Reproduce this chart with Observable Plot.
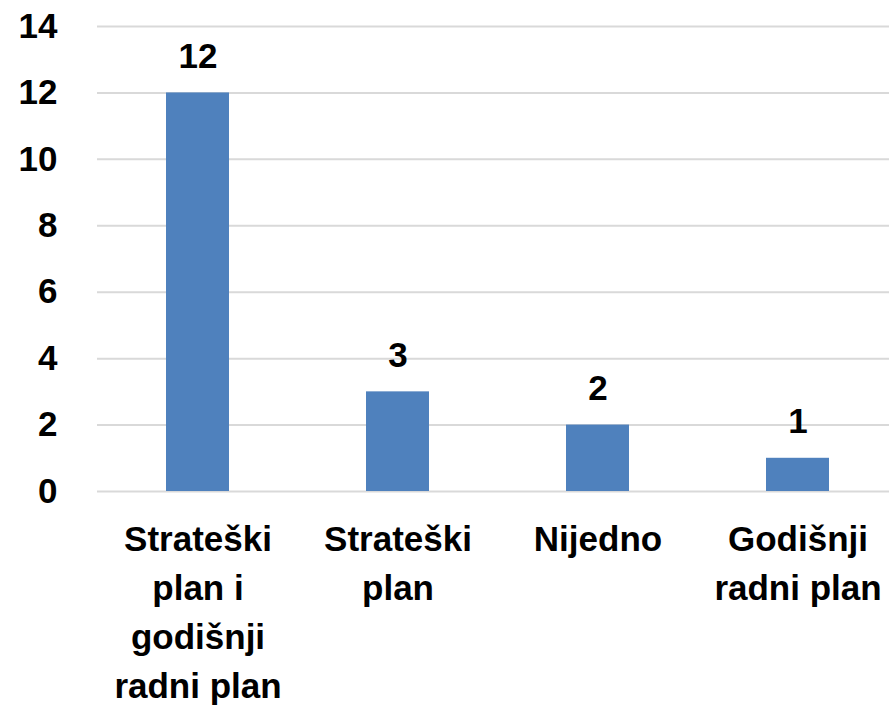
<!DOCTYPE html>
<html>
<head>
<meta charset="utf-8">
<script src="https://cdn.jsdelivr.net/npm/d3@7"></script>
<script src="https://cdn.jsdelivr.net/npm/@observablehq/plot@0.6"></script>
<style>
  html, body { margin: 0; padding: 0; background: #fff; }
  #chart svg { display: block; }
</style>
</head>
<body>
<div id="chart"></div>
<script>
const categories = ["Strateški plan i godišnji radni plan", "Strateški plan", "Nijedno", "Godišnji radni plan"];
const values = [12, 3, 2, 1];
const categoryLabels = ["Strateški\nplan i\ngodišnji\nradni plan", "Strateški\nplan", "Nijedno", "Godišnji\nradni plan"];
const yTicks = [0, 2, 4, 6, 8, 10, 12, 14];

const data = categories.map((c, i) => ({category: c, value: values[i], label: categoryLabels[i]}));
const font = "'Liberation Sans', Arial, sans-serif";

const chart = Plot.plot({
  width: 889,
  height: 708,
  marginLeft: 97,
  marginRight: 0,
  marginTop: 26,
  marginBottom: 217,
  style: {fontFamily: font, fontWeight: "bold", fontSize: "35px", color: "#000", background: "#fff"},
  x: {domain: categories, range: [97, 897], paddingInner: 0.685, paddingOuter: 0.3425, axis: null},
  y: {domain: [0, 14], axis: null},
  marks: [
    Plot.ruleY(yTicks, {stroke: "#d9d9d9", strokeWidth: 2}),
    Plot.barY(data, {x: "category", y: "value", fill: "#4f81bd"}),
    Plot.text(data, {x: "category", y: "value", text: d => String(d.value), lineAnchor: "bottom", dy: -25, fontSize: 35, fontWeight: "bold", fill: "#000"}),
    Plot.text(data, {x: "category", y: () => 0, text: "label", lineAnchor: "top", dy: 25, lineHeight: 1.4, fontSize: 35, fontWeight: "bold", fill: "#000"}),
    Plot.axisY(yTicks, {tickSize: 0, tickPadding: 40, fontSize: 35, fontWeight: "bold", fill: "#000", label: null})
  ]
});
document.getElementById("chart").appendChild(chart);
</script>
</body>
</html>
